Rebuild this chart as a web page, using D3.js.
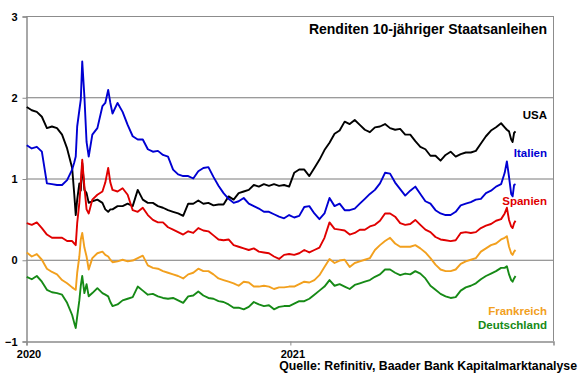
<!DOCTYPE html>
<html><head><meta charset="utf-8">
<script src="https://cdn.jsdelivr.net/npm/d3@7/dist/d3.min.js"></script>
<style>
html,body{margin:0;padding:0;background:#fff;}
svg{display:block;}
text{font-family:Arial,"Liberation Sans",sans-serif;font-weight:bold;}
</style></head>
<body>
<svg id="chart" width="580" height="375"></svg>
<script>
const title = "Renditen 10-jähriger Staatsanleihen";
const source = "Quelle: Refinitiv, Baader Bank Kapitalmarktanalyse";
const yTicks = [-1, 0, 1, 2, 3];
const xTicks = ["2020-01-01", "2021-01-01"];
const dates = [
"2020-01-02","2020-01-09","2020-01-16","2020-01-23","2020-01-30","2020-02-06","2020-02-13","2020-02-20","2020-02-27","2020-03-05",
"2020-03-08","2020-03-10","2020-03-12","2020-03-15","2020-03-17","2020-03-19","2020-03-22","2020-03-25","2020-03-28","2020-04-02",
"2020-04-09","2020-04-16","2020-04-20","2020-04-24","2020-04-27","2020-04-30","2020-05-07","2020-05-14","2020-05-21","2020-05-28",
"2020-06-04","2020-06-11","2020-06-18","2020-06-25","2020-07-02","2020-07-09","2020-07-16","2020-07-23","2020-07-30","2020-08-06",
"2020-08-13","2020-08-20","2020-08-27",
"2020-09-03","2020-09-10","2020-09-17","2020-09-24","2020-10-01","2020-10-08","2020-10-15","2020-10-22","2020-10-29","2020-11-05",
"2020-11-12","2020-11-19","2020-11-26","2020-12-03","2020-12-10","2020-12-17","2020-12-24","2020-12-31","2021-01-07","2021-01-14",
"2021-01-21","2021-01-28","2021-02-04","2021-02-11","2021-02-18","2021-02-25","2021-03-04","2021-03-11","2021-03-18","2021-03-25",
"2021-04-01","2021-04-08","2021-04-15","2021-04-22",
"2021-04-29","2021-05-06","2021-05-13","2021-05-20","2021-05-27","2021-06-03","2021-06-10","2021-06-17","2021-06-24","2021-07-01",
"2021-07-08","2021-07-15","2021-07-22","2021-07-29","2021-08-05","2021-08-12","2021-08-19","2021-08-26","2021-09-02","2021-09-09",
"2021-09-16","2021-09-23","2021-09-30","2021-10-07","2021-10-14","2021-10-21","2021-10-26","2021-10-29","2021-11-01","2021-11-04",
"2021-11-06","2021-11-08","2021-11-10"];

const usa = [
1.88,1.84,1.82,1.76,1.62,1.64,1.62,1.54,1.37,1.13, 0.80,0.55,0.74,0.94,0.85,1.19,0.86,0.82,0.70,0.72,
0.74,0.70,0.62,0.59,0.62,0.62,0.66,0.66,0.69,0.66, 0.86,0.74,0.70,0.70,0.66,0.64,0.61,0.59,0.57,0.54,
0.69,0.69,0.73,
0.69,0.70,0.67,0.68,0.68,0.78,0.74,0.82,0.84,0.86, 0.92,0.90,0.93,0.91,0.93,0.91,0.92,0.90,1.07,1.11,
1.11,1.03,1.13,1.23,1.35,1.44,1.55,1.59,1.70,1.67, 1.72,1.66,1.60,1.57,
1.63,1.64,1.67,1.62,1.60,1.61,1.54,1.54,1.46,1.39, 1.36,1.28,1.28,1.22,1.29,1.33,1.27,1.30,1.32,1.32,
1.34,1.43,1.52,1.59,1.63,1.68,1.63,1.60,1.58,1.48, 1.45,1.56,1.58];

const italien = [
1.41,1.37,1.39,1.33,0.94,0.93,0.92,0.92,0.98,1.11, 1.20,1.27,1.64,1.84,1.97,2.44,2.01,1.45,1.27,1.54,
1.62,1.89,1.93,2.09,1.93,1.80,1.93,1.82,1.66,1.52, 1.48,1.48,1.36,1.33,1.34,1.29,1.27,1.11,1.05,1.03,
1.03,1.00,1.09,
1.13,1.14,1.02,0.91,0.82,0.75,0.70,0.72,0.76,0.69, 0.66,0.63,0.59,0.59,0.56,0.53,0.51,0.55,0.52,0.54,
0.65,0.66,0.57,0.50,0.57,0.76,0.66,0.69,0.61,0.61, 0.63,0.69,0.75,0.81,
0.86,0.94,1.07,1.06,0.95,0.87,0.79,0.85,0.90,0.81, 0.72,0.69,0.61,0.57,0.55,0.55,0.59,0.67,0.69,0.71,
0.74,0.75,0.82,0.85,0.90,0.93,1.07,1.21,1.02,0.81, 0.78,0.92,0.93];

const spanien = [
0.45,0.43,0.46,0.39,0.31,0.27,0.27,0.27,0.23,0.23, 0.20,0.18,0.45,0.70,0.95,1.23,0.90,0.62,0.57,0.74,
0.80,0.84,0.95,1.13,0.95,0.86,0.84,0.88,0.80,0.61, 0.59,0.64,0.55,0.49,0.46,0.46,0.40,0.37,0.34,0.31,
0.35,0.33,0.39,
0.36,0.35,0.30,0.25,0.24,0.25,0.18,0.16,0.14,0.12, 0.14,0.10,0.09,0.08,0.04,0.01,0.06,0.07,0.06,0.08,
0.12,0.09,0.12,0.15,0.27,0.46,0.38,0.37,0.36,0.31, 0.33,0.37,0.37,0.41,
0.43,0.48,0.57,0.57,0.53,0.45,0.43,0.44,0.49,0.43, 0.37,0.34,0.28,0.25,0.24,0.23,0.24,0.33,0.34,0.33,
0.34,0.39,0.42,0.44,0.48,0.50,0.57,0.64,0.49,0.41, 0.39,0.45,0.48];

const frankreich = [
0.09,0.04,0.07,0.00,-0.11,-0.15,-0.18,-0.25,-0.29,-0.34, -0.36,-0.37,-0.16,0.04,0.25,0.33,0.15,0.04,-0.12,0.02,
0.08,0.10,0.06,0.04,0.00,-0.03,-0.02,0.00,-0.02,-0.01, 0.02,0.05,-0.07,-0.10,-0.11,-0.14,-0.16,-0.18,-0.20,-0.23,
-0.18,-0.16,-0.11,
-0.14,-0.14,-0.18,-0.23,-0.25,-0.27,-0.29,-0.32,-0.27,-0.28, -0.33,-0.33,-0.32,-0.33,-0.36,-0.34,-0.34,-0.33,-0.33,-0.30,
-0.27,-0.28,-0.25,-0.19,-0.09,0.01,-0.04,-0.01,0.00,-0.09, -0.04,-0.02,0.00,0.02,
0.12,0.18,0.23,0.27,0.20,0.16,0.16,0.16,0.18,0.14, 0.09,0.02,-0.06,-0.12,-0.14,-0.14,-0.12,-0.05,-0.02,0.00,
0.02,0.10,0.14,0.18,0.20,0.25,0.27,0.29,0.16,0.08, 0.06,0.10,0.12];

const deutschland = [
-0.21,-0.24,-0.20,-0.27,-0.37,-0.40,-0.41,-0.43,-0.53,-0.68, -0.78,-0.84,-0.70,-0.50,-0.32,-0.20,-0.41,-0.30,-0.45,-0.41,
-0.35,-0.41,-0.43,-0.45,-0.52,-0.57,-0.55,-0.50,-0.48,-0.46, -0.33,-0.38,-0.43,-0.42,-0.45,-0.47,-0.48,-0.47,-0.50,-0.53,
-0.45,-0.44,-0.39,
-0.44,-0.47,-0.48,-0.51,-0.52,-0.55,-0.59,-0.59,-0.61,-0.58, -0.52,-0.55,-0.57,-0.56,-0.61,-0.58,-0.57,-0.57,-0.54,-0.51,
-0.51,-0.48,-0.43,-0.38,-0.33,-0.25,-0.32,-0.30,-0.33,-0.36, -0.31,-0.29,-0.27,-0.25,
-0.21,-0.18,-0.12,-0.12,-0.16,-0.19,-0.17,-0.18,-0.14,-0.17, -0.23,-0.32,-0.37,-0.42,-0.45,-0.47,-0.46,-0.38,-0.34,-0.32,
-0.29,-0.24,-0.20,-0.17,-0.14,-0.10,-0.10,-0.08,-0.18,-0.25, -0.27,-0.23,-0.20];

const seriesNames = ["USA", "Italien", "Spanien", "Frankreich", "Deutschland"];
const seriesValues = [usa, italien, spanien, frankreich, deutschland];
const seriesColors = ["#000000", "#0000d2", "#e00000", "#f2a01e", "#168a16"];
const labelY = [119, 157, 205, 315, 329];

const svg = d3.select("#chart");
const parse = d3.timeParse("%Y-%m-%d");
const L = 26, R = 553, T = 16, B = 341;
const x = d3.scaleTime().domain([parse("2020-01-01"), parse("2022-01-01")]).range([L, R]);
const y = d3.scaleLinear().domain([-1, 3]).range([B, T]);

// gridlines
svg.append("g").selectAll("line").data([0, 1, 2]).join("line")
  .attr("x1", L).attr("x2", R)
  .attr("y1", d => y(d) + 0.5).attr("y2", d => y(d) + 0.5)
  .attr("stroke", "#7a7a7a").attr("stroke-width", 1);
// frame top / right
svg.append("line").attr("x1", L).attr("x2", R + 0.5).attr("y1", T + 0.5).attr("y2", T + 0.5).attr("stroke", "#8c8c8c");
svg.append("line").attr("x1", R + 0.5).attr("x2", R + 0.5).attr("y1", T).attr("y2", B).attr("stroke", "#8c8c8c");

// y axis
const yAxis = d3.axisLeft(y).tickValues(yTicks).tickSize(4).tickPadding(5).tickFormat(d3.format("d"));
const gy = svg.append("g").attr("transform", `translate(${L + 0.5},0.5)`).call(yAxis);
gy.select(".domain").attr("stroke", "#8c8c8c").attr("stroke-width", 1.5);
gy.selectAll(".tick line").attr("stroke", "#8c8c8c");
gy.selectAll("text").attr("font-size", 11).attr("font-weight", "bold").attr("fill", "#000")
  .attr("font-family", "Arial, 'Liberation Sans', sans-serif");

// x axis
const xAxis = d3.axisBottom(x).tickValues(xTicks.map(parse)).tickSize(4).tickPadding(5).tickFormat(d3.timeFormat("%Y"));
const gx = svg.append("g").attr("transform", `translate(0.5,${B + 0.5})`).call(xAxis);
gx.select(".domain").attr("stroke", "#8c8c8c").attr("stroke-width", 1.5);
gx.selectAll(".tick line").attr("stroke", "#8c8c8c");
gx.selectAll("text").attr("font-size", 11).attr("font-weight", "bold").attr("fill", "#000")
  .attr("font-family", "Arial, 'Liberation Sans', sans-serif").attr("dx", 2);

// lines
const line = d3.line().x(d => x(d.date)).y(d => y(d.v));
seriesValues.forEach((vals, k) => {
  const data = vals.map((v, i) => ({ date: parse(dates[i]), v }));
  svg.append("path").datum(data)
    .attr("fill", "none").attr("stroke", seriesColors[k]).attr("stroke-width", 1.9)
    .attr("stroke-linejoin", "round").attr("d", line);
});

// labels
svg.append("g").selectAll("text").data(seriesNames).join("text")
  .attr("x", 547).attr("y", (d, i) => labelY[i])
  .attr("text-anchor", "end").attr("font-size", 11.5)
  .attr("fill", (d, i) => seriesColors[i]).text(d => d);

svg.append("text").attr("x", 547).attr("y", 34).attr("text-anchor", "end")
  .attr("font-size", 14).attr("fill", "#000").text(title);
svg.append("text").attr("x", 577).attr("y", 370).attr("text-anchor", "end")
  .attr("font-size", 12.3).attr("fill", "#000").text(source);
</script>
</body></html>
